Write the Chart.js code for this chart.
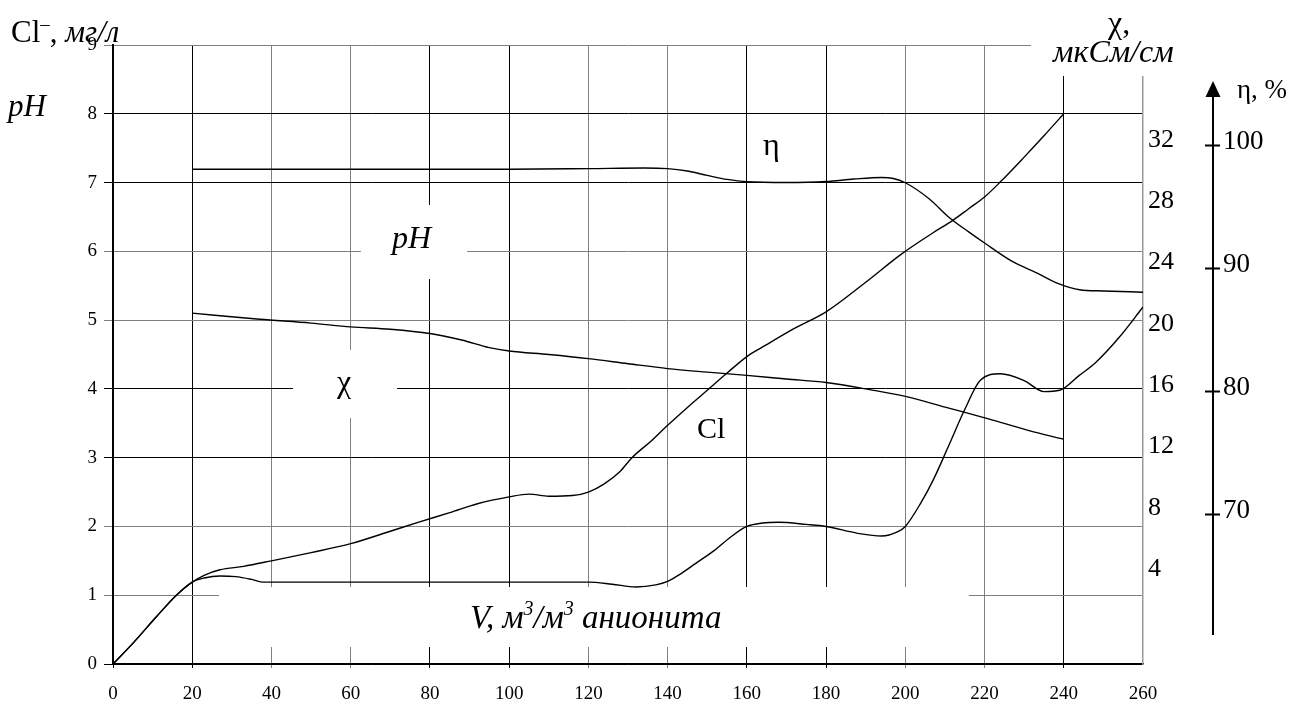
<!DOCTYPE html>
<html lang="ru">
<head>
<meta charset="UTF-8" />
<title>Cl, pH, χ, η от V</title>
<style>
    html, body { margin: 0; padding: 0; background: #ffffff; overflow: hidden; }
    #wrap { width: 1311px; height: 702px; position: relative; }
</style>
</head>
<body>
<div id="wrap"><canvas id="chart"></canvas></div>

<script src="https://cdn.jsdelivr.net/npm/chart.js"></script>
<script>
    // V, m3/m3 - points for every curve
    const clVol  = [0, 5, 11, 16, 20, 23, 27, 33, 40, 50, 60, 70, 77, 85, 92, 100, 105, 110, 116, 120, 124, 128, 131, 136, 140, 145, 150, 155, 160, 164, 172, 180, 190, 199, 207, 212, 216, 220, 224, 230, 235, 240];
    const clVal  = [0, 0.30, 0.69, 1.0, 1.19, 1.29, 1.37, 1.42, 1.50, 1.62, 1.75, 1.93, 2.06, 2.2, 2.33, 2.43, 2.47, 2.44, 2.45, 2.5, 2.62, 2.8, 3.0, 3.25, 3.47, 3.73, 3.98, 4.23, 4.47, 4.61, 4.88, 5.12, 5.55, 5.96, 6.27, 6.45, 6.62, 6.79, 7.01, 7.37, 7.68, 8.0];

    const phVol  = [0, 5, 11, 16, 20, 23, 27, 31, 35, 38, 50, 80, 100, 120, 126, 132, 137, 140, 143, 147, 152, 156, 160, 164, 168, 175, 180, 188, 194, 198, 200, 204, 207, 211, 215, 219, 224, 230, 235, 239, 244, 248, 254, 260];
    const phVal  = [0, 0.30, 0.69, 1.0, 1.19, 1.25, 1.28, 1.27, 1.23, 1.19, 1.19, 1.19, 1.19, 1.19, 1.16, 1.12, 1.15, 1.2, 1.3, 1.46, 1.66, 1.85, 2.0, 2.05, 2.06, 2.03, 2.0, 1.9, 1.86, 1.92, 2.0, 2.35, 2.67, 3.18, 3.7, 4.13, 4.22, 4.12, 3.96, 3.98, 4.2, 4.38, 4.75, 5.19];

    const chiVol = [20, 37, 50, 60, 70, 80, 88, 95, 100, 110, 120, 130, 140, 150, 160, 170, 180, 191, 200, 211, 221, 231, 240];
    const chiVal = [20.7, 20.3, 20.05, 19.8, 19.65, 19.37, 18.95, 18.45, 18.23, 18.0, 17.73, 17.4, 17.08, 16.85, 16.64, 16.4, 16.17, 15.71, 15.27, 14.5, 13.8, 13.05, 12.47];

    const etaVol = [20, 60, 100, 120, 134, 140, 145, 150, 155, 160, 170, 180, 187, 194, 197, 200, 206, 211, 216, 220, 227, 233, 239, 244, 250, 260];
    const etaVal = [98.0, 98.0, 98.0, 98.05, 98.1, 98.05, 97.85, 97.5, 97.17, 96.98, 96.92, 97.0, 97.2, 97.33, 97.25, 96.9, 95.6, 94.1, 92.9, 92.0, 90.5, 89.6, 88.65, 88.2, 88.1, 88.0];

    // tick labels
    const xTicks   = [0, 20, 40, 60, 80, 100, 120, 140, 160, 180, 200, 220, 240, 260];
    const chiTicks = [4, 8, 12, 16, 20, 24, 28, 32];
    const etaTicks = [70, 80, 90, 100];

    const SERIF = '"Liberation Serif", "Times New Roman", serif';

    const pts = (xs, ys) => xs.map((x, i) => ({ x: x, y: ys[i] }));

    // draw a line of text made of several pieces (superscripts, italics)
    function runs(ctx, x, y, parts) {
        parts.forEach(function (p) {
            ctx.font = p[1];
            ctx.fillText(p[0], x, y - (p[2] || 0));
            x += ctx.measureText(p[0]).width;
        });
    }

    const decor = {
        id: "decor",
        beforeDatasetsDraw(chart) {
            const ctx = chart.ctx;
            ctx.save();
            ctx.fillStyle = "#ffffff";
            // white areas behind the labels, they cut the grid
            ctx.fillRect(219, 587, 750, 60);
            ctx.fillRect(293, 350, 104, 68);
            ctx.fillRect(361, 205, 106, 74);
            ctx.fillRect(1031, 0, 280, 76);
            ctx.restore();
        },
        afterDraw(chart) {
            const ctx = chart.ctx;
            const eta = chart.scales.yEta;
            ctx.save();
            ctx.fillStyle = "#000";
            ctx.strokeStyle = "#000";
            ctx.textBaseline = "alphabetic";
            ctx.textAlign = "left";

            runs(ctx, 11, 42, [
                ["Cl", "31px " + SERIF],
                ["\u2013", "19px " + SERIF, 12],
                [", ", "31px " + SERIF],
                ["мг/л", "italic 31px " + SERIF]
            ]);
            ctx.font = "italic 31px " + SERIF;
            ctx.fillText("pH", 8, 116);

            ctx.font = "32px " + SERIF;
            ctx.fillText("χ,", 1108, 33);
            ctx.font = "italic 32px " + SERIF;
            ctx.fillText("мкСм/см", 1053, 62);

            // curve labels
            ctx.font = "italic 32px " + SERIF;
            ctx.fillText("pH", 392, 248);
            ctx.font = "32px " + SERIF;
            ctx.fillText("χ", 337, 392);
            ctx.fillText("η", 763, 155);
            ctx.font = "30px " + SERIF;
            ctx.fillText("Cl", 697, 438);

            runs(ctx, 470, 628, [
                ["V, м", "italic 33px " + SERIF],
                ["3", "italic 20px " + SERIF, 13],
                ["/м", "italic 33px " + SERIF],
                ["3", "italic 20px " + SERIF, 13],
                [" анионита", "italic 33px " + SERIF]
            ]);

            // eta axis with arrow
            const ax = 1213;
            ctx.lineWidth = 2;
            ctx.beginPath();
            ctx.moveTo(ax, 96);
            ctx.lineTo(ax, 635);
            ctx.stroke();
            ctx.beginPath();
            ctx.moveTo(ax, 81);
            ctx.lineTo(ax - 7.5, 97);
            ctx.lineTo(ax + 7.5, 97);
            ctx.closePath();
            ctx.fill();
            ctx.font = "27px " + SERIF;
            ctx.fillText("η, %", 1237, 98);

            ctx.textBaseline = "middle";
            ctx.font = "27px " + SERIF;
            etaTicks.forEach(function (v) {
                const py = Math.round(eta.getPixelForValue(v)) + 0.5;
                ctx.beginPath();
                ctx.moveTo(ax - 8, py);
                ctx.lineTo(ax + 7, py);
                ctx.stroke();
                ctx.fillText(String(v), 1223, py - 4);
            });
            ctx.restore();
        }
    };

    const lineStyle = {
        borderColor: "#000",
        borderWidth: 1.4,
        pointRadius: 0,
        fill: false,
        cubicInterpolationMode: "monotone"
    };

    new Chart(document.getElementById("chart"), {
        type: "line",
        data: {
            datasets: [
                Object.assign({ label: "Cl", data: pts(clVol, clVal), yAxisID: "y" }, lineStyle),
                Object.assign({ label: "pH", data: pts(phVol, phVal), yAxisID: "y" }, lineStyle),
                Object.assign({ label: "χ", data: pts(chiVol, chiVal), yAxisID: "yChi" }, lineStyle),
                Object.assign({ label: "η", data: pts(etaVol, etaVal), yAxisID: "yEta" }, lineStyle)
            ]
        },
        options: {
            responsive: true,
            maintainAspectRatio: false,
            animation: false,
            layout: { padding: { top: 45, left: 0, right: 0, bottom: 0 } },
            plugins: { legend: { display: false }, tooltip: { enabled: false } },
            scales: {
                x: {
                    type: "linear",
                    min: 0,
                    max: 260,
                    afterBuildTicks: s => { s.ticks = xTicks.map(v => ({ value: v })); },
                    afterFit: s => { s.height = 38; },
                    ticks: { color: "#000", font: { family: SERIF, size: 19 }, padding: 15, maxRotation: 0 },
                    grid: {
                        tickLength: 4,
                        color: c => c.tick.value === 260 ? "rgba(0,0,0,0)" : (Math.floor(c.tick.value / 40) % 2 === 0 ? "#000" : "#808080")
                    },
                    border: { color: "#000", width: 1.5 }
                },
                y: {
                    min: 0,
                    max: 9,
                    ticks: { stepSize: 1, color: "#000", font: { family: SERIF, size: 19 }, padding: 7 },
                    afterFit: s => { s.width = 113; },
                    grid: {
                        tickLength: 9,
                        color: c => Math.floor((c.tick.value + 1) / 2) % 2 === 0 ? "#000" : "#808080"
                    },
                    border: { color: "#000", width: 2 }
                },
                yChi: {
                    position: "right",
                    min: -2.2,
                    max: 38.2,
                    afterBuildTicks: s => { s.ticks = chiTicks.map(v => ({ value: v })); },
                    afterFit: s => { s.width = 168; },
                    ticks: { color: "#000", font: { family: SERIF, size: 26 }, padding: 5 },
                    grid: { display: false, drawTicks: false },
                    border: { color: "#9a9a9a", width: 1.5 }
                },
                yEta: {
                    display: false,
                    min: 57.77,
                    max: 108.1
                }
            }
        },
        plugins: [decor]
    });
</script>
</body>
</html>
